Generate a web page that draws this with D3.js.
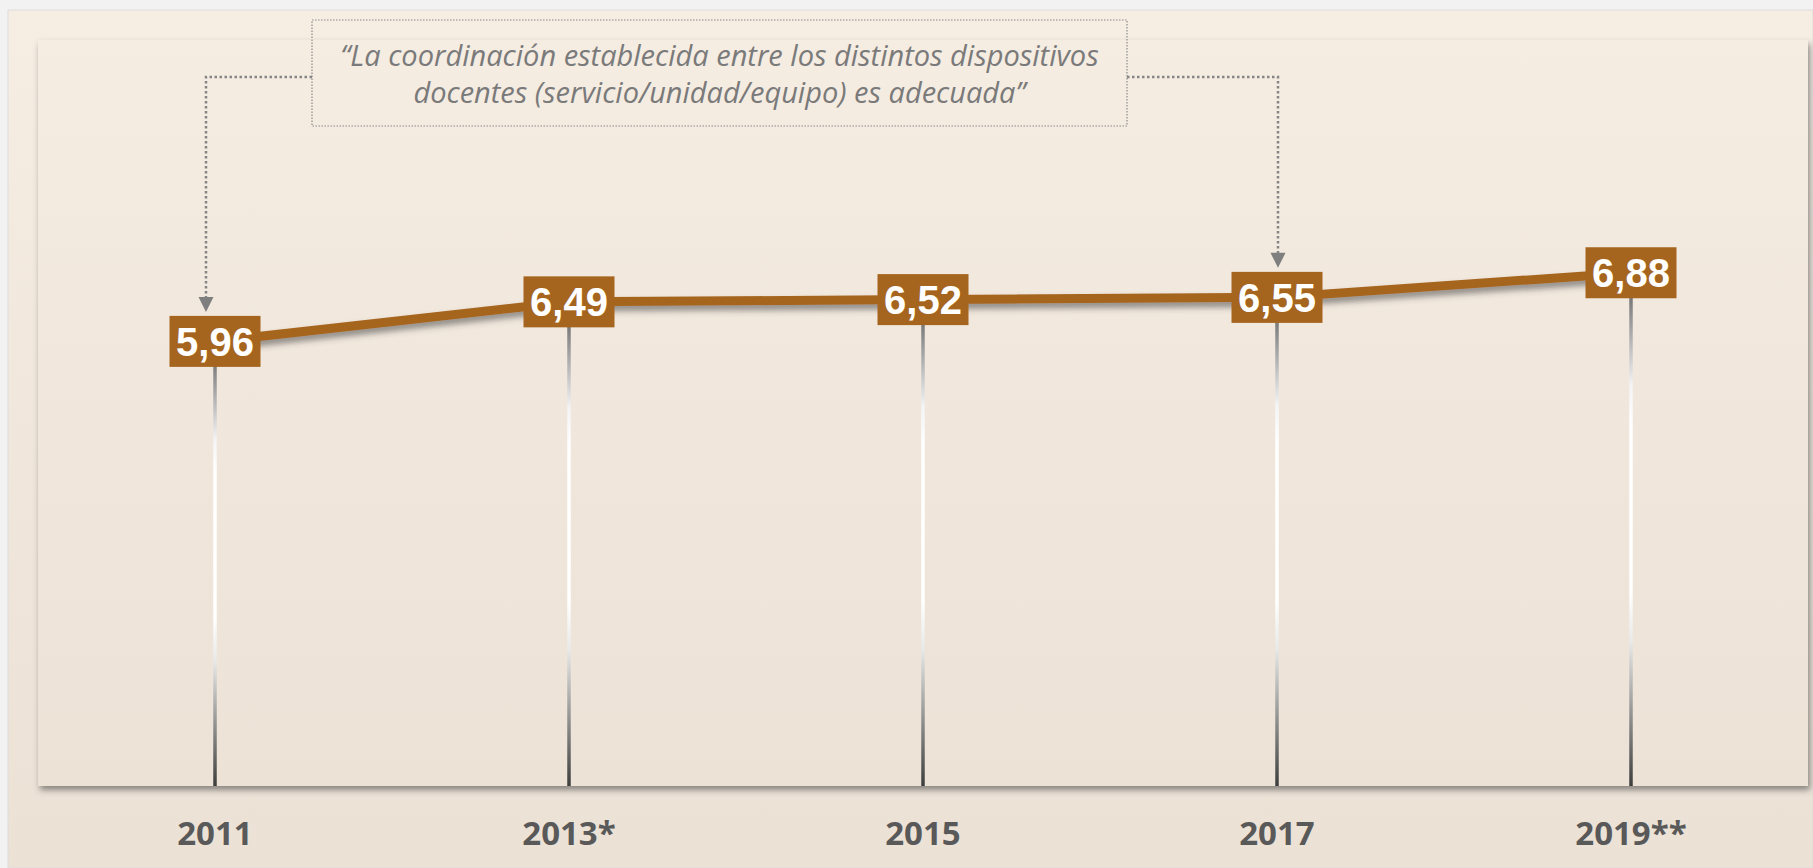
<!DOCTYPE html>
<head>
    <meta charset="utf-8">
</head>

<style type="text/css">
    html, body {
        margin: 0;
        padding: 0;
        background: #f2f2f2;
        overflow: hidden;
    }
    .year-label {
        font-family: "Open Sans", sans-serif;
        font-weight: 700;
        font-size: 33px;
        fill: #595959;
        text-anchor: middle;
    }
    .value-label {
        font-family: "Liberation Sans", Arial, sans-serif;
        font-weight: 700;
        font-size: 40px;
        fill: #fff;
        text-anchor: middle;
    }
    .note-text {
        font-family: "Open Sans", sans-serif;
        font-style: italic;
        font-weight: 400;
        font-size: 29px;
        fill: #7a7a7a;
        text-anchor: middle;
    }
    .main-line {
        fill: none;
        stroke: #a6651e;
        stroke-width: 9;
    }
    .connector {
        fill: none;
        stroke: #858585;
        stroke-width: 2.5;
        stroke-dasharray: 2.5 2.5;
    }
</style>

<body>
<svg id="chart" width="1813" height="868"></svg>
</body>

<script src="https://d3js.org/d3.v7.min.js"></script>

<script>

// data
var years = ["2011", "2013*", "2015", "2017", "2019**"];
var values = [5.96, 6.49, 6.52, 6.55, 6.88];
var yDomain = [0, 10];
var noteLines = [
    "\u201cLa coordinación establecida entre los distintos dispositivos",
    "docentes (servicio/unidad/equipo) es adecuada\u201d"
];
// which points the note's arrows point at
var noteTargets = ["2011", "2017"];

var data = years.map(function(y, i) { return {year: y, val: values[i]}; });

var W = 1813, H = 868;
var plot = {left: 38, right: 1808, top: 40, bottom: 786};
var boxW = 91, boxH = 51;

var svg = d3.select("#chart");
var defs = svg.append("defs");

var comma = d3.formatLocale({decimal: ",", thousands: ".", grouping: [3], currency: ["", ""]}).format(".2f");

var xscale = d3.scalePoint()
    .domain(years)
    .range([215, 1631]);

var yscale = d3.scaleLinear()
    .domain(yDomain)
    .range([plot.bottom, plot.top]);

// gradients
var outerGrad = defs.append("linearGradient").attr("id", "outerGrad")
    .attr("x1", 0).attr("y1", 0).attr("x2", 0).attr("y2", 1);
outerGrad.append("stop").attr("offset", 0).attr("stop-color", "#f6ede3");
outerGrad.append("stop").attr("offset", 1).attr("stop-color", "#ebe1d5");

var innerGrad = defs.append("linearGradient").attr("id", "innerGrad")
    .attr("x1", 0).attr("y1", 0).attr("x2", 0).attr("y2", 1);
innerGrad.append("stop").attr("offset", 0).attr("stop-color", "#f5ece2");
innerGrad.append("stop").attr("offset", 1).attr("stop-color", "#ece2d6");

var stemGrad = defs.append("linearGradient").attr("id", "stemGrad")
    .attr("x1", 0).attr("y1", 0).attr("x2", 0).attr("y2", 1);
[[0, "#555"], [0.22, "#f4f4f4"], [0.3, "#ffffff"], [0.62, "#ffffff"], [0.72, "#e8e8e8"], [1, "#3e3e3e"]].forEach(function(s) {
    stemGrad.append("stop").attr("offset", s[0]).attr("stop-color", s[1]);
});

var shadow = defs.append("filter").attr("id", "shadow")
    .attr("x", "-5%").attr("y", "-50%").attr("width", "110%").attr("height", "200%");
shadow.append("feDropShadow").attr("dx", 0).attr("dy", 5).attr("stdDeviation", 3)
    .attr("flood-color", "#3a3a3a").attr("flood-opacity", 0.55);

var panelShadow = defs.append("filter").attr("id", "panelShadow")
    .attr("x", "-2%").attr("y", "-2%").attr("width", "104%").attr("height", "106%");
panelShadow.append("feDropShadow").attr("dx", 2).attr("dy", 4).attr("stdDeviation", 3)
    .attr("flood-color", "#444").attr("flood-opacity", 0.6);

// background panels
svg.append("rect")
    .attr("x", 8).attr("y", 10).attr("width", W - 8).attr("height", H - 10)
    .attr("fill", "url(#outerGrad)")
    .attr("stroke", "#dcdcdc").attr("stroke-width", 1);

svg.append("rect")
    .attr("x", plot.left).attr("y", plot.top)
    .attr("width", plot.right - plot.left).attr("height", plot.bottom - plot.top)
    .attr("fill", "url(#innerGrad)")
    .attr("filter", "url(#panelShadow)");

// vertical stems
svg.append("g").selectAll(".stem")
    .data(data)
    .enter()
    .append("rect")
    .attr("class", "stem")
    .attr("x", function(d) { return xscale(d.year) - 1.75; })
    .attr("y", function(d) { return yscale(d.val); })
    .attr("width", 3.5)
    .attr("height", function(d) { return plot.bottom - yscale(d.val); })
    .attr("fill", "url(#stemGrad)");

// year labels
svg.append("g").selectAll(".year-label")
    .data(data)
    .enter()
    .append("text")
    .attr("class", "year-label")
    .attr("x", function(d) { return xscale(d.year); })
    .attr("y", 845)
    .text(function(d) { return d.year; });

// main line
var line = d3.line()
    .x(function(d) { return xscale(d.year); })
    .y(function(d) { return yscale(d.val); });

svg.append("path")
    .attr("class", "main-line")
    .attr("d", line(data))
    .attr("filter", "url(#shadow)");

// value boxes
var box = svg.append("g").selectAll(".val-box")
    .data(data)
    .enter()
    .append("g")
    .attr("class", "val-box")
    .attr("transform", function(d) {
        return "translate(" + xscale(d.year) + "," + yscale(d.val) + ")";
    });

box.append("rect")
    .attr("x", -boxW / 2).attr("y", -boxH / 2)
    .attr("width", boxW).attr("height", boxH)
    .attr("fill", "#a6651e");

box.append("text")
    .attr("class", "value-label")
    .attr("y", 14.5)
    .text(function(d) { return comma(d.val); });

// annotation box
var note = {x: 312, y: 20, w: 815, h: 106, joinY: 77};

svg.append("rect")
    .attr("x", note.x).attr("y", note.y)
    .attr("width", note.w).attr("height", note.h)
    .attr("fill", "none")
    .attr("stroke", "#8a8a8a")
    .attr("stroke-width", 1.2)
    .attr("stroke-dasharray", "1.5 1.5");

svg.append("g").selectAll(".note-text")
    .data(noteLines)
    .enter()
    .append("text")
    .attr("class", "note-text")
    .attr("x", note.x + note.w / 2)
    .attr("y", function(d, i) { return 66 + i * 37; })
    .text(function(d) { return d; });

// connectors with arrows
noteTargets.forEach(function(yr, i) {
    var d = data[years.indexOf(yr)];
    var ax = xscale(yr) + (i === 0 ? -9 : 1);
    var tipY = yscale(d.val) - boxH / 2 - 4;
    var startX = i === 0 ? note.x : note.x + note.w;

    svg.append("path")
        .attr("class", "connector")
        .attr("d", "M" + startX + "," + note.joinY + "H" + ax + "V" + (tipY - 14));

    svg.append("path")
        .attr("d", "M" + (ax - 7.5) + "," + (tipY - 15) + "L" + (ax + 7.5) + "," + (tipY - 15) + "L" + ax + "," + tipY + "Z")
        .attr("fill", "#7f7f7f");
});

</script>
